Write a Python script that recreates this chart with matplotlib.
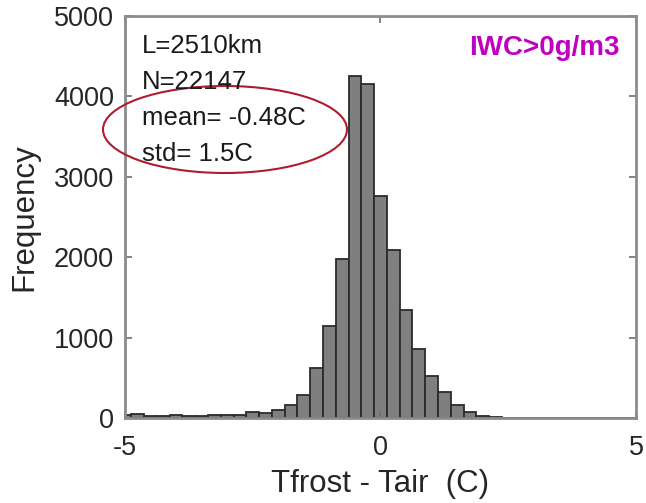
import matplotlib
matplotlib.use("Agg")
import matplotlib.pyplot as plt
from matplotlib.patches import Ellipse
import numpy as np

plt.rcParams['font.family'] = ['Liberation Sans', 'DejaVu Sans']
plt.rcParams['axes.unicode_minus'] = False

# bin centres (C) and counts
centers = np.arange(-5, 5.001, 0.25)
counts = [42, 46, 25, 30, 34, 30, 21, 42, 34, 42,
          71, 67, 105, 167, 284, 617, 1141, 1980, 4250, 4160,
          2763, 2096, 1346, 855, 525, 320, 165, 70, 28, 8,
          3, 2, 2, 1, 1, 0, 0, 0, 0, 0, 0]
stats_lines = ["L=2510km", "N=22147", "mean= -0.48C", "std= 1.5C"]
label_iwc = "IWC>0g/m3"
xticks = [-5, 0, 5]
yticks = [0, 1000, 2000, 3000, 4000, 5000]

fig = plt.figure(figsize=(6.46, 5.03), dpi=100)
ax = fig.add_axes([0.1935, 0.169, 0.791, 0.799])

ax.bar(centers, counts, width=0.25, align='center', color='#7f7f7f',
       edgecolor='#2b2b2b', linewidth=1.3)

ax.set_xlim(-5, 5)
ax.set_ylim(0, 5000)
ax.set_xticks(xticks)
ax.set_yticks(yticks)
ax.tick_params(direction='in', length=5, width=1.2, color='#6e6e6e',
               labelsize=19.5, labelcolor='#262626', top=True, right=True,
               pad=8)
ax.tick_params(axis='x', pad=12)
for s in ax.spines.values():
    s.set_color('#8c8c8c')
    s.set_linewidth(2)

ax.set_xlabel("Tfrost - Tair  (C)", fontsize=22.5, color='#262626', labelpad=6)
ax.set_ylabel("Frequency", fontsize=22.5, color='#262626', labelpad=10)

for i, line in enumerate(stats_lines):
    fig.text(142 / 646, 1 - (53 + 36 * i) / 503, line, fontsize=18.5,
             color='#1a1a1a', ha='left', va='baseline')

fig.text(620 / 646, 1 - 55 / 503, label_iwc, fontsize=20, color='#c000c0',
         fontweight='bold', ha='right', va='baseline')

ell = Ellipse((225 / 646, 1 - 129.5 / 503), 244 / 646, 87 / 503,
              transform=fig.transFigure, fill=False, edgecolor='#b01c2e',
              linewidth=1.5, clip_on=False)
fig.patches.append(ell)

fig.savefig("out.png", dpi=100)
